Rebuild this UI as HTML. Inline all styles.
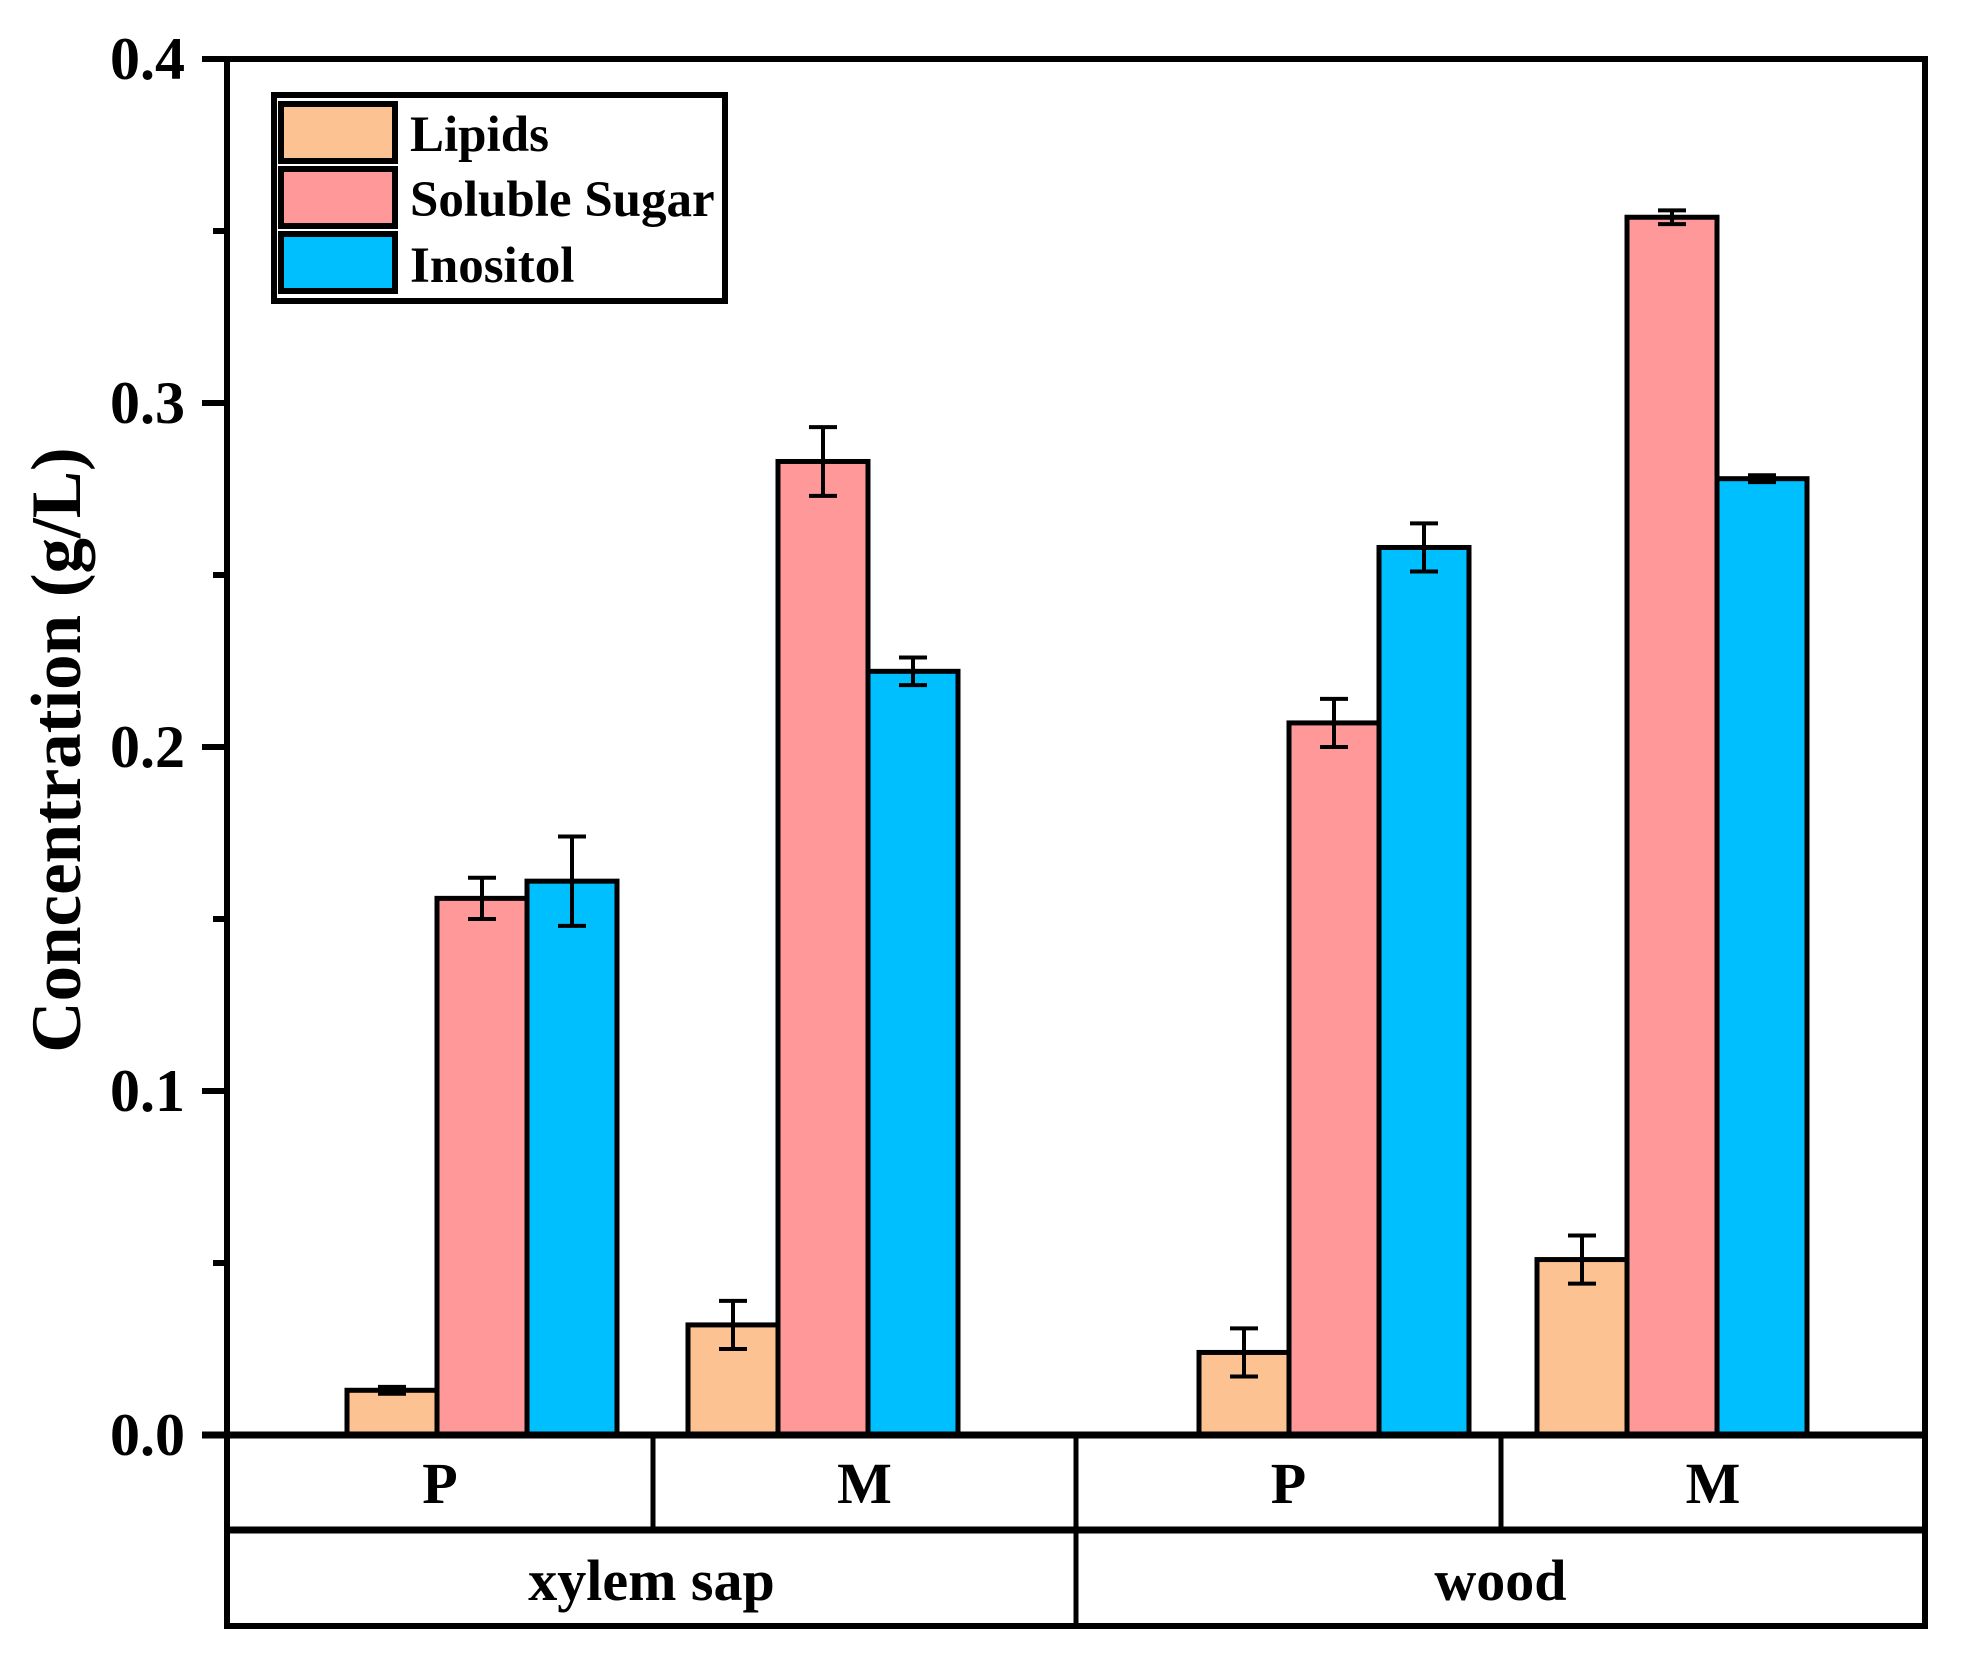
<!DOCTYPE html>
<html><head><meta charset="utf-8"><style>
html,body{margin:0;padding:0;background:#fff;}
svg{display:block;font-family:"Liberation Serif",serif;font-weight:bold;}
</style></head><body>
<svg id="chart" width="1963" height="1665" viewBox="0 0 1963 1665" xmlns="http://www.w3.org/2000/svg">
<g id="bars"></g>
<g id="axes"></g>
<text transform="translate(80,750) rotate(-90)" text-anchor="middle" font-size="71">Concentration (g/L)</text>
<g>
<rect x="274" y="95" width="451" height="206" fill="#fff" stroke="#000" stroke-width="6"/>
<g><rect x="281" y="104" width="114" height="57" fill="#FDC291" stroke="#000" stroke-width="6"/><text x="410" y="151" font-size="51">Lipids</text></g>
<g><rect x="281" y="169" width="114" height="57" fill="#FF9999" stroke="#000" stroke-width="6"/><text x="410" y="216" font-size="51">Soluble Sugar</text></g>
<g><rect x="281" y="234" width="114" height="57" fill="#00BFFF" stroke="#000" stroke-width="6"/><text x="410" y="282" font-size="51">Inositol</text></g>
</g>
</svg>
<script>
const groups=["P","M","P","M"];
const outer=["xylem sap","wood"];
const series=["Lipids","Soluble Sugar","Inositol"];
const lipids=[0.013,0.032,0.024,0.051];
const sugar=[0.156,0.283,0.207,0.354];
const inositol=[0.161,0.222,0.258,0.278];
const lipidsErr=[0.001,0.007,0.007,0.007];
const sugarErr=[0.006,0.010,0.007,0.002];
const inositolErr=[0.013,0.004,0.007,0.001];
const yTicks=[0,0.1,0.2,0.3,0.4];
const yTickLabels=["0.0","0.1","0.2","0.3","0.4"];

const NS="http://www.w3.org/2000/svg";
const L=227,R=1925,T=59,B=1435,yMax=0.4;
const y=v=>B-(v/yMax)*(B-T);
const centers=[482,823,1334,1672];
const bw=90;
const colors=["#FDC291","#FF9999","#00BFFF"];
const vals=[lipids,sugar,inositol],errs=[lipidsErr,sugarErr,inositolErr];
const barsG=document.getElementById('bars'),axG=document.getElementById('axes');
function mk(tag,at,parent){const e=document.createElementNS(NS,tag);for(const k in at)e.setAttribute(k,at[k]);parent.appendChild(e);return e;}
for(let s=0;s<3;s++){for(let g=0;g<groups.length;g++){
 const x=centers[g]+(s-1)*bw-bw/2,v=vals[s][g],e=errs[s][g];
 const r=mk('rect',{x:x,y:y(v),width:bw,height:B-y(v),fill:colors[s],stroke:'#000','stroke-width':5},barsG);
 
 
 const cx=x+bw/2;
 const eb=mk('path',{d:`M${cx},${y(v+e)}V${y(v-e)}M${cx-14},${y(v+e)}H${cx+14}M${cx-14},${y(v-e)}H${cx+14}`,stroke:'#000','stroke-width':4,fill:'none'},barsG);
 
 
}}
mk('path',{d:`M${L},${T}H${R}V1626H${L}Z`,fill:'none',stroke:'#000','stroke-width':6},axG);
mk('line',{x1:202,y1:B,x2:R,y2:B,stroke:'#000','stroke-width':7},axG);
mk('line',{x1:L,y1:1530,x2:R,y2:1530,stroke:'#000','stroke-width':7},axG);
[653,1501].forEach(x=>mk('line',{x1:x,y1:B,x2:x,y2:1530,stroke:'#000','stroke-width':5},axG));
mk('line',{x1:1076,y1:B,x2:1076,y2:1626,stroke:'#000','stroke-width':5},axG);
yTicks.forEach((t,i)=>{
 mk('line',{x1:202,y1:y(t),x2:L,y2:y(t),stroke:'#000','stroke-width':6},axG);
 const tx=mk('text',{x:185,y:y(t)+20,'text-anchor':'end','font-size':60},axG);
 tx.textContent=yTickLabels[i];
 
 
 if(i<yTicks.length-1) mk('line',{x1:213,y1:y(t+0.05),x2:L,y2:y(t+0.05),stroke:'#000','stroke-width':6},axG);
});
const gc=[(L+653)/2,(653+1076)/2,(1076+1501)/2,(1501+R)/2];
groups.forEach((g,i)=>{const t=mk('text',{x:gc[i],y:1503,'text-anchor':'middle','font-size':58},axG);t.textContent=g;
 
 });
[(L+1076)/2,(1076+R)/2].forEach((c,i)=>{const t=mk('text',{x:c,y:1600,'text-anchor':'middle','font-size':58},axG);t.textContent=outer[i];
 
 });
</script>
</body></html>
